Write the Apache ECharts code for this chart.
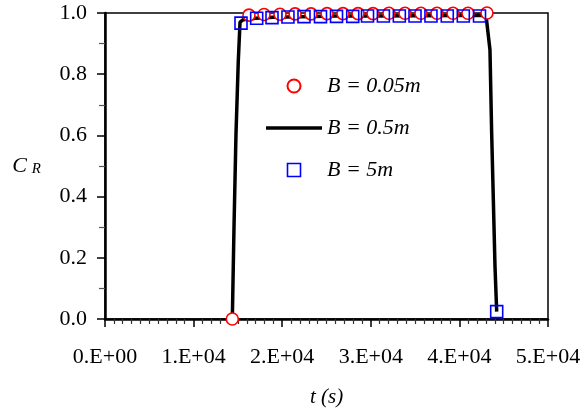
<!DOCTYPE html>
<html>
<head>
<meta charset="utf-8">
<script src="https://cdn.jsdelivr.net/npm/echarts@6/dist/echarts.min.js"></script>
<style>
html,body{margin:0;padding:0;background:#fff;}
#chart{width:587px;height:414px;}
</style>
</head>
<body>
<div id="chart"></div>
<script>
// B = 0.05m (circles)
const tCircle = [14370, 16250, 17950, 19750, 21450, 23250, 25060, 26860, 28560, 30250, 32050, 33860, 35660, 37470, 39280, 40970, 43110];
const cCircle = [0.0, 0.993, 0.995, 0.996, 0.997, 0.997, 0.998, 0.998, 0.998, 0.998, 0.999, 0.999, 0.999, 0.999, 0.999, 0.999, 1.0];
// B = 0.5m (line)
const tLine = [14370, 14560, 14780, 15040, 15240, 15600, 17000, 19000, 22000, 26000, 30000, 35000, 40000, 43000, 43450, 43640, 43830, 44020, 44210];
const cLine = [0.0, 0.3, 0.6, 0.84, 0.97, 0.978, 0.983, 0.986, 0.988, 0.99, 0.99, 0.991, 0.992, 0.993, 0.88, 0.61, 0.39, 0.17, 0.024];
// B = 5m (squares)
const tSquare = [15350, 17120, 18850, 20650, 22460, 24320, 26130, 27960, 29630, 31420, 33220, 34990, 36790, 38630, 40440, 42270, 44210];
const cSquare = [0.967, 0.983, 0.985, 0.987, 0.988, 0.988, 0.989, 0.989, 0.99, 0.99, 0.99, 0.99, 0.99, 0.99, 0.99, 0.99, 0.024];

const seriesNames = ['B = 0.05m', 'B = 0.5m', 'B = 5m'];
const xTickLabels = ['0.E+00', '1.E+04', '2.E+04', '3.E+04', '4.E+04', '5.E+04'];
const yTickLabels = ['0.0', '0.2', '0.4', '0.6', '0.8', '1.0'];

const zip = (a, b) => a.map((v, i) => [v, b[i]]);
const FONT = 'Liberation Serif';
const SQUARE_ICON = 'path://M0,0H10V10H0Z';
const LINE_ICON = 'path://M0,0H56V3.5H0Z';

const chart = echarts.init(document.getElementById('chart'), null, {renderer: 'canvas'});
chart.setOption({
  animation: false,
  backgroundColor: '#fff',
  textStyle: {fontFamily: FONT, color: '#000'},
  grid: {left: 105, right: 39, top: 13, bottom: 95, show: true, borderColor: '#000', borderWidth: 1.5, backgroundColor: 'transparent'},
  legend: {
    orient: 'vertical',
    left: 266, top: 75, padding: 0,
    itemWidth: 56, itemHeight: 13, itemGap: 20,
    symbolKeepAspect: true,
    data: [
      {name: seriesNames[0]},
      {name: seriesNames[1], icon: LINE_ICON, itemStyle: {color: '#000', borderWidth: 0}},
      {name: seriesNames[2], icon: SQUARE_ICON, itemStyle: {color: 'rgba(0,0,0,0)', borderColor: '#0000ff', borderWidth: 1.6}}
    ],
    textStyle: {fontFamily: FONT, fontStyle: 'italic', fontSize: 22, color: '#000', lineHeight: 22},
    selectedMode: false
  },
  xAxis: {
    type: 'value', min: 0, max: 50000, interval: 10000,
    name: 't (s)', nameLocation: 'middle', nameGap: 68,
    nameTextStyle: {fontFamily: FONT, fontStyle: 'italic', fontSize: 21, color: '#000'},
    axisLine: {lineStyle: {color: '#000', width: 2.5}},
    axisTick: {show: true, inside: false, length: 8, lineStyle: {color: '#000', width: 1.5}},
    minorTick: {show: true, splitNumber: 10, length: 5, lineStyle: {color: '#333', width: 1.2}},
    splitLine: {show: false},
    axisLabel: {margin: 27, fontFamily: FONT, fontSize: 22, color: '#000',
      formatter: v => xTickLabels[Math.round(v / 10000)]}
  },
  yAxis: {
    type: 'value', min: 0, max: 1, interval: 0.2,
    name: '{c|C}{r|R}', nameLocation: 'middle', nameGap: 64, nameRotate: 0,
    nameTextStyle: {
      rich: {
        c: {fontFamily: FONT, fontStyle: 'italic', fontSize: 22, lineHeight: 22, verticalAlign: 'top', color: '#000'},
        r: {fontFamily: FONT, fontStyle: 'italic', fontSize: 15, lineHeight: 15, verticalAlign: 'bottom', padding: [12, 0, 0, 5], color: '#000'}
      }
    },
    axisLine: {lineStyle: {color: '#000', width: 2.5}},
    axisTick: {show: true, inside: false, length: 8, lineStyle: {color: '#000', width: 1.5}},
    minorTick: {show: true, splitNumber: 2, length: 6, lineStyle: {color: '#555', width: 1.2}},
    splitLine: {show: false},
    axisLabel: {margin: 18, fontFamily: FONT, fontSize: 22, color: '#000',
      formatter: v => yTickLabels[Math.round(v / 0.2)]}
  },
  series: [
    {
      name: seriesNames[1], type: 'line', data: zip(tLine, cLine),
      symbol: 'none', showSymbol: false, smooth: false,
      lineStyle: {color: '#000', width: 3.5}, itemStyle: {color: '#000'}, z: 2
    },
    {
      name: seriesNames[0], type: 'scatter', data: zip(tCircle, cCircle),
      symbol: 'circle', symbolSize: 12, symbolKeepAspect: true,
      itemStyle: {color: '#fff', borderColor: '#ff0000', borderWidth: 1.6, opacity: 1}, z: 3
    },
    {
      name: seriesNames[2], type: 'scatter', data: zip(tSquare, cSquare),
      symbol: 'rect', symbolSize: 12, symbolKeepAspect: true,
      itemStyle: {color: 'rgba(0,0,0,0)', borderColor: '#0000ff', borderWidth: 1.6, opacity: 1}, z: 4
    }
  ]
});
</script>
</body>
</html>
